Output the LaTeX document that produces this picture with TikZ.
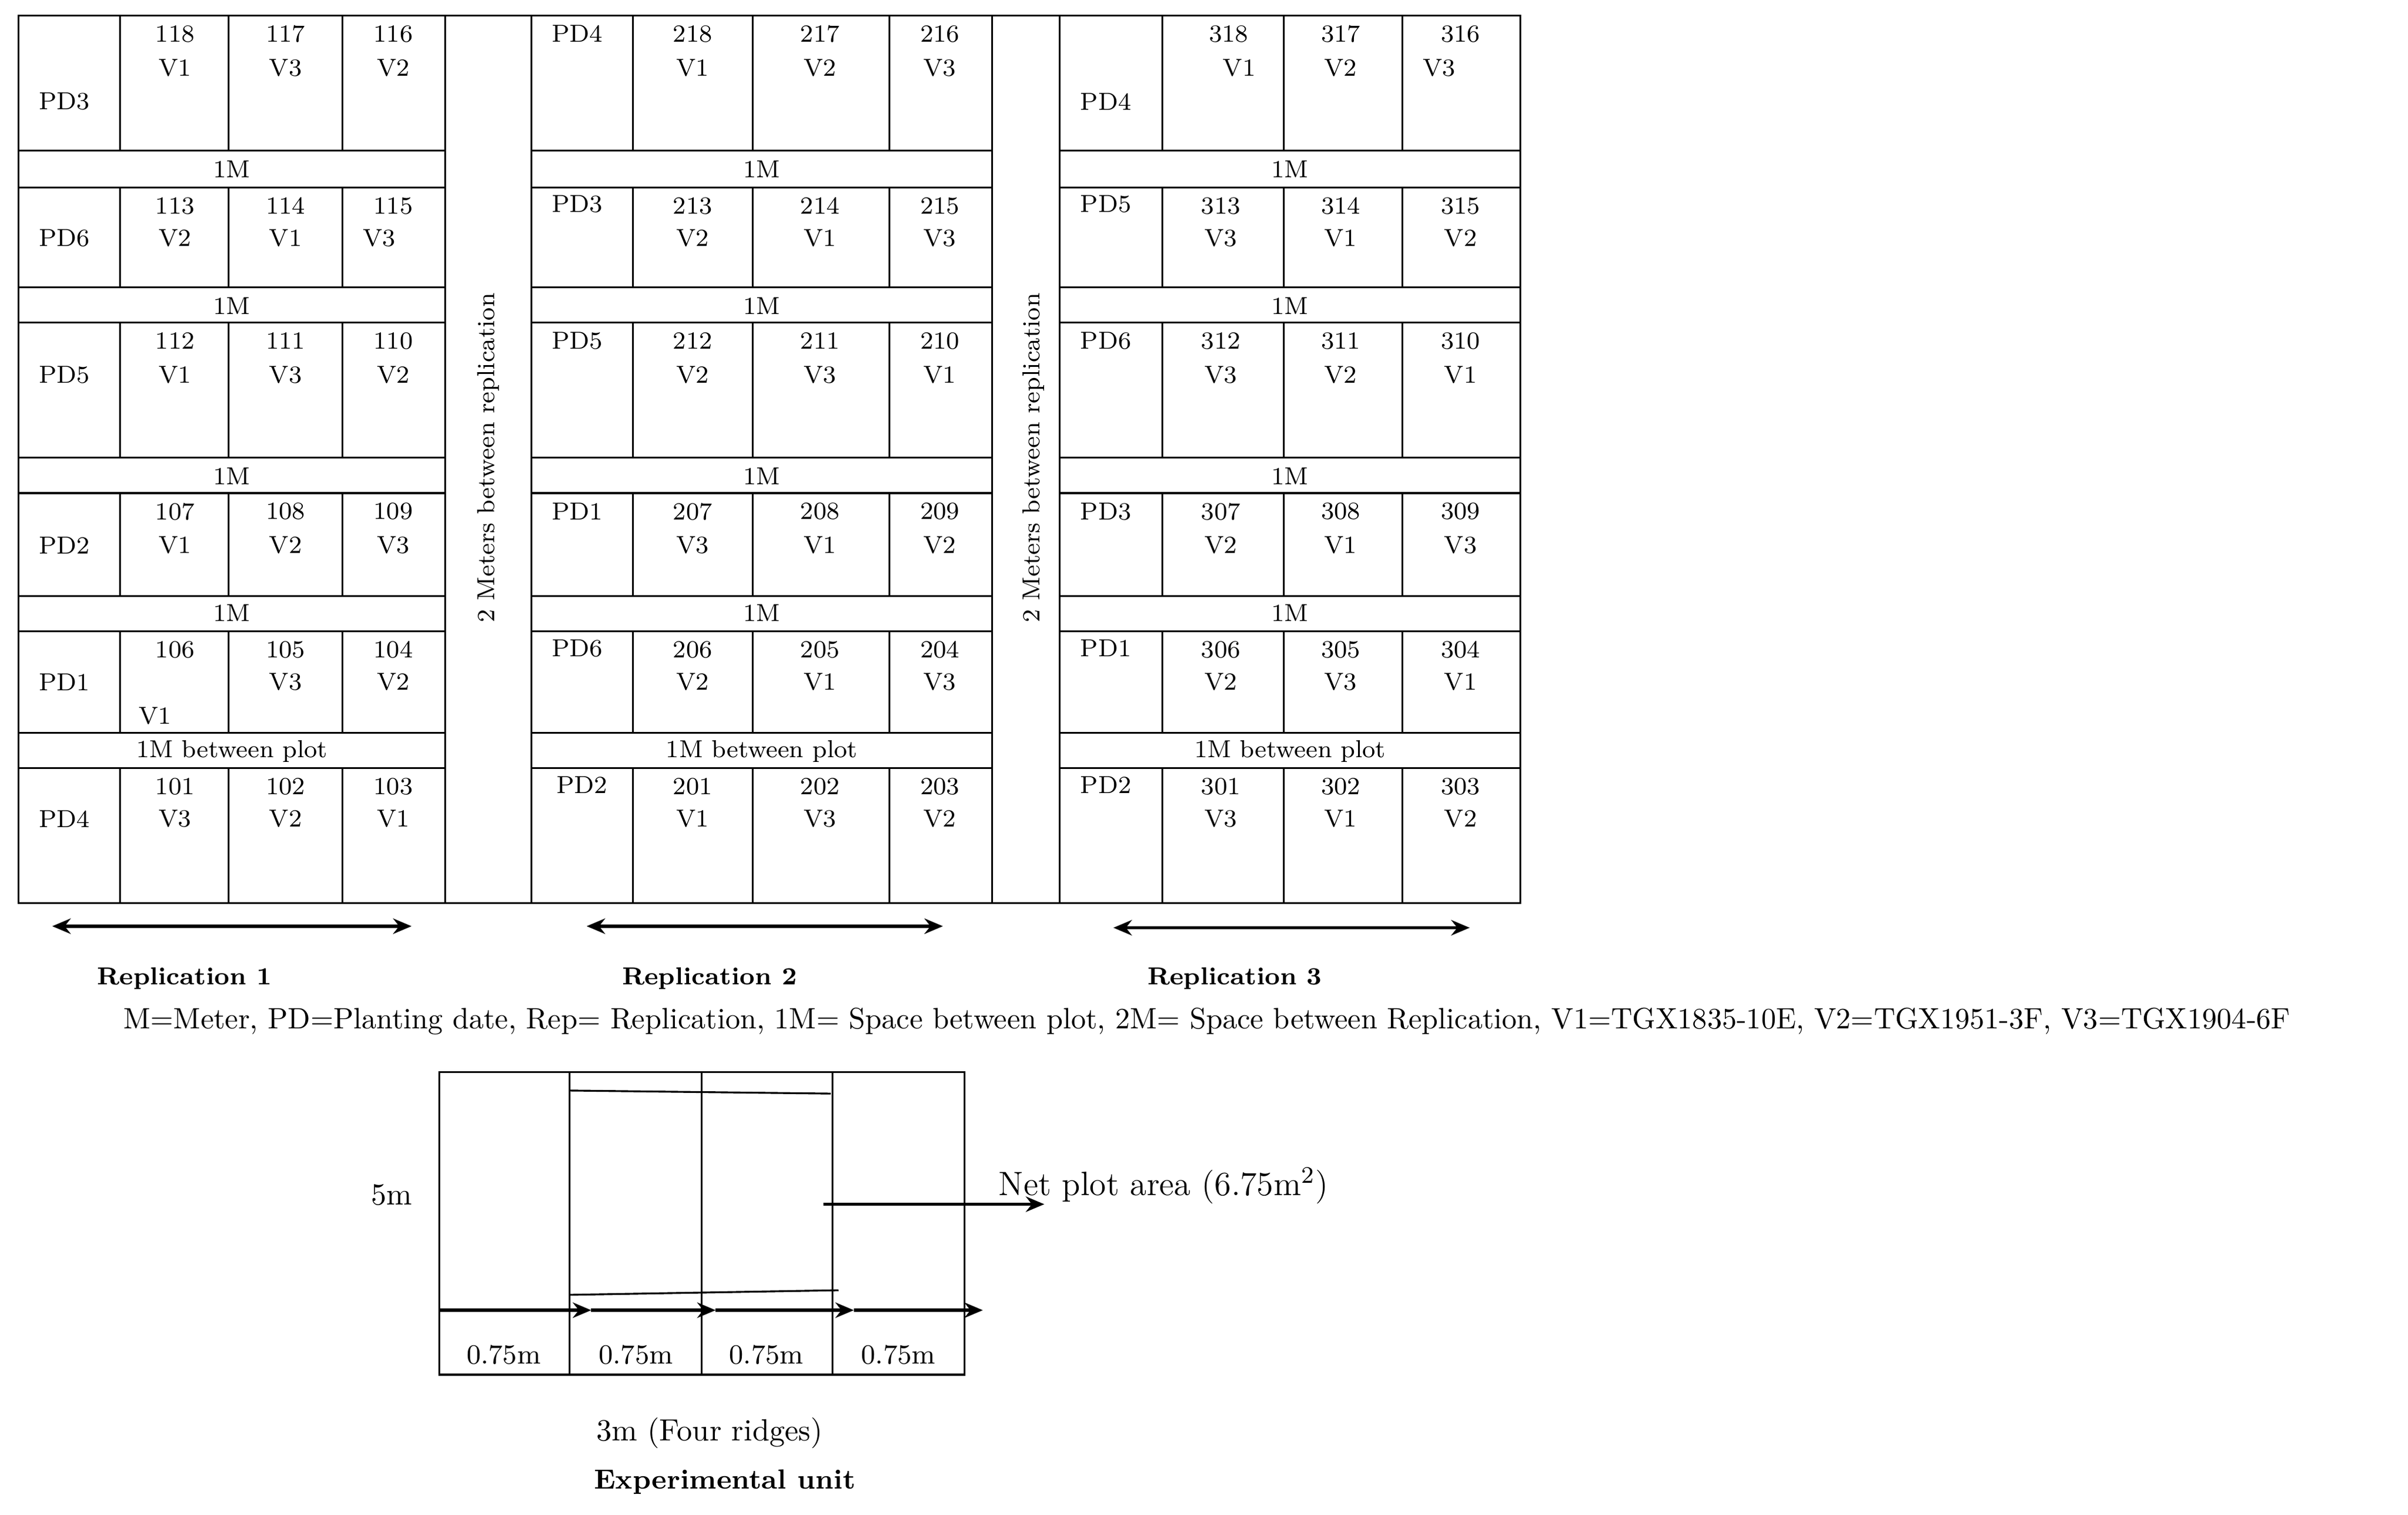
\documentclass[tikz,border=0pt]{standalone}
\usetikzlibrary{arrows.meta}
\begin{document}
\begin{tikzpicture}[x=0.5pt,y=-0.5pt,
  ln/.style={line width=0.6pt},
  lbl/.style={font=\fontsize{8}{9}\selectfont,inner sep=0pt},
  bl/.style={font=\bfseries\fontsize{8}{9}\selectfont,inner sep=0pt},
  ar/.style={line width=1.1pt,{Stealth[length=6pt,width=5pt]}-{Stealth[length=6pt,width=5pt]}},
  rar/.style={line width=1.1pt,-{Stealth[length=6pt,width=5pt]}}]
\useasboundingbox (0,0) rectangle (1568,986);
% grid
\draw[ln] (12,10) rectangle (990,588);
\foreach \x in {290,346,646,690} \draw[ln] (\x,10)--(\x,588);
\foreach \y in {98,122,187,210,298,321,388,411,477,500}
  {\draw[ln] (12,\y)--(290,\y); \draw[ln] (346,\y)--(646,\y); \draw[ln] (690,\y)--(990,\y);}
\foreach \a/\b in {10/98,122/187,210/298,321/388,411/477,500/588}
  \foreach \x in {78,149,223,412,490,579,757,836,913} \draw[ln] (\x,\a)--(\x,\b);
% strips
\foreach \y/\s [count=\i] in {110/1M,199/1M,310/1M,399/1M,489/1M between plot}
  {\node[lbl] (sa\i) at (151,\y) {\s}; \node[lbl] (sb\i) at (496,\y) {\s}; \node[lbl] (sc\i) at (840,\y) {\s};}
\node[lbl,rotate=90] (al1) at (318,298) {2 Meters between replication};
\node[lbl,rotate=90] (al2) at (673,298) {2 Meters between replication};
% PD labels
\foreach \p/\x/\y in {PD3/42/66,PD6/42/155,PD5/42/244,PD2/42/355,PD1/42/444,PD4/42/533,
  PD4/376/22,PD3/376/133,PD5/376/222,PD1/376/333,PD6/376/422,PD2/379/511,
  PD4/720/66,PD5/720/133,PD6/720/222,PD3/720/333,PD1/720/422,PD2/720/511}
  \node[lbl] (pd\x\y) at (\x,\y) {\p};
% plots
\foreach \n/\x/\t/\v/\vx/\vy in {
 118/114/10/V1/114/44,117/186/10/V3/186/44,116/256/10/V2/256/44,
 113/114/122/V2/114/155,114/186/122/V1/186/155,115/256/122/V3/247/155,
 112/114/210/V1/114/244,111/186/210/V3/186/244,110/256/210/V2/256/244,
 107/114/321/V1/114/355,108/186/321/V2/186/355,109/256/321/V3/256/355,
 106/114/411/V1/101/466,105/186/411/V3/186/444,104/256/411/V2/256/444,
 101/114/500/V3/114/533,102/186/500/V2/186/533,103/256/500/V1/256/533,
 218/451/10/V1/451/44,217/534/10/V2/534/44,216/612/10/V3/612/44,
 213/451/122/V2/451/155,214/534/122/V1/534/155,215/612/122/V3/612/155,
 212/451/210/V2/451/244,211/534/210/V3/534/244,210/612/210/V1/612/244,
 207/451/321/V3/451/355,208/534/321/V1/534/355,209/612/321/V2/612/355,
 206/451/411/V2/451/444,205/534/411/V1/534/444,204/612/411/V3/612/444,
 201/451/500/V1/451/533,202/534/500/V3/534/533,203/612/500/V2/612/533,
 318/800/10/V1/807/44,317/873/10/V2/873/44,316/951/10/V3/937/44,
 313/795/122/V3/795/155,314/873/122/V1/873/155,315/951/122/V2/951/155,
 312/795/210/V3/795/244,311/873/210/V2/873/244,310/951/210/V1/951/244,
 307/795/321/V2/795/355,308/873/321/V1/873/355,309/951/321/V3/951/355,
 306/795/411/V2/795/444,305/873/411/V3/873/444,304/951/411/V1/951/444,
 301/795/500/V3/795/533,302/873/500/V1/873/533,303/951/500/V2/951/533}
 {\node[lbl] (n\n) at (\x,\t+12) {\n}; \node[lbl] (v\n) at (\vx,\vy) {\v};}
% replication arrows
\coordinate (r1a) at (34,603); \coordinate (r1b) at (268,603);
\coordinate (r2a) at (382,603); \coordinate (r2b) at (614,603);
\coordinate (r3a) at (725,604); \coordinate (r3b) at (957,604);
\draw[ar] (r1a)--(r1b); \draw[ar] (r2a)--(r2b); \draw[ar] (r3a)--(r3b);
\node[bl] (rep1) at (120,637) {Replication 1};
\node[bl] (rep2) at (462,637) {Replication 2};
\node[bl] (rep3) at (804,637) {Replication 3};
\node[inner sep=0pt,font=\fontsize{9.6}{11}\selectfont] (leg) at (786,665) {M=Meter, PD=Planting date, Rep= Replication, 1M= Space between plot, 2M= Space between Replication, V1=TGX1835-10E, V2=TGX1951-3F, V3=TGX1904-6F};
% experimental unit
\draw[ln] (286,698) rectangle (628,895);
\foreach \x in {371,457,542} \draw[ln] (\x,698)--(\x,895);
\draw[ln] (371,710)--(541,712);
\draw[ln] (371,843)--(546,840);
\coordinate (h0) at (286,853); \coordinate (h1) at (385,853); \coordinate (h2) at (466,853);
\coordinate (h3) at (556,853); \coordinate (h4) at (640,853);
\draw[rar] (h0)--(h1); \draw[rar] (h1)--(h2); \draw[rar] (h2)--(h3); \draw[rar] (h3)--(h4);
\foreach \x [count=\i] in {328,414,499,585} \node[inner sep=0pt,font=\fontsize{9}{10}\selectfont] (w\i) at (\x,882) {0.75m};
\node[inner sep=0pt,font=\fontsize{11}{12}\selectfont,anchor=west] (net) at (650,772) {Net plot area (6.75m\textsuperscript{2})};
\coordinate (na) at (536,784); \coordinate (nb) at (680,784);
\draw[rar] (na)--(nb);
\node[inner sep=0pt,font=\fontsize{10}{12}\selectfont] (five) at (255,778) {5m};
\node[inner sep=0pt,font=\fontsize{10}{12}\selectfont] (three) at (462,933) {3m (Four ridges)};
\node[bl,font=\bfseries\fontsize{9}{10}\selectfont] (eu) at (472,965) {Experimental unit};
\end{tikzpicture}
\end{document}
